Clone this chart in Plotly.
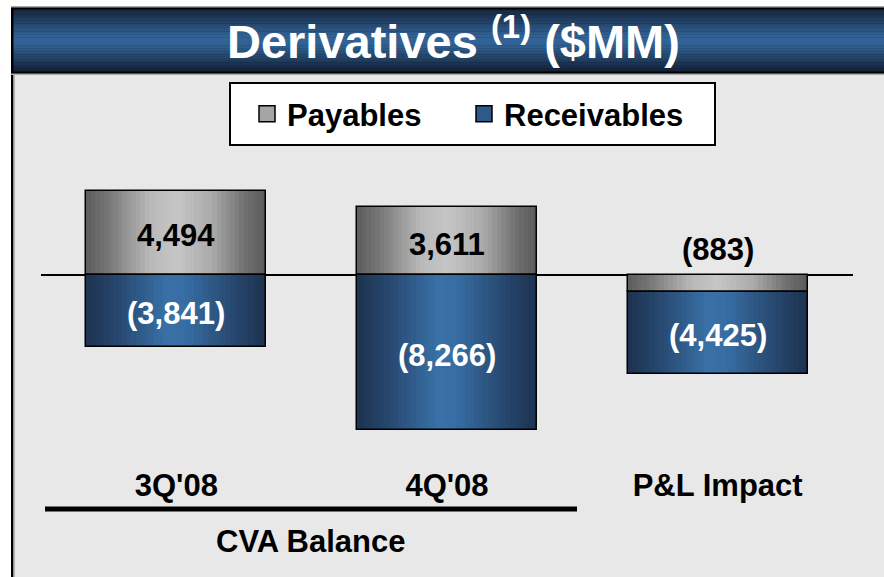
import plotly.graph_objects as go

# ---------------- data ----------------
categories = ["3Q'08", "4Q'08", "P&L Impact"]
payables = [4494, 3611, -883]
receivables = [-3841, -8266, -4425]
series_names = ["Payables", "Receivables"]
group_label = "CVA Balance"
title_text = "<b>Derivatives <sup>(1)</sup> ($MM)</b>"

# ---------------- geometry ----------------
W, H = 884, 577
L, R, T, B = 41, 31, 155, 122
PW, PH = W - L - R, H - T - B
FONT = "Liberation Sans, Arial, sans-serif"


def px_x(px):
    return (px - L) / PW


def px_y(py):
    return (H - B - py) / PH


def lerp(stops, t):
    for (p0, c0), (p1, c1) in zip(stops[:-1], stops[1:]):
        if p0 <= t <= p1:
            f = 0 if p1 == p0 else (t - p0) / (p1 - p0)
            c = [round(a + (b - a) * f) for a, b in zip(c0, c1)]
            return f"rgb({c[0]},{c[1]},{c[2]})"
    c = stops[-1][1]
    return f"rgb({c[0]},{c[1]},{c[2]})"


gray_stops = [(0, (92, 92, 92)), (0.12, (118, 118, 118)), (0.35, (184, 184, 184)),
              (0.5, (198, 198, 198)), (0.7, (170, 170, 170)), (0.88, (112, 112, 112)),
              (1, (90, 90, 90))]
blue_stops = [(0, (29, 51, 80)), (0.15, (37, 68, 106)), (0.45, (57, 113, 168)),
              (0.55, (55, 109, 163)), (0.8, (40, 74, 114)), (1, (28, 49, 78))]
title_stops = [(0, (22, 38, 59)), (0.12, (30, 56, 88)), (0.45, (52, 101, 152)),
               (0.6, (48, 94, 143)), (0.85, (30, 56, 88)), (1, (18, 32, 52))]

bar_w = 0.665
N = 40

recv_base = [p if (r < 0 and p < 0) else 0 for p, r in zip(payables, receivables)]
pay_base = [0 for _ in payables]

fig = go.Figure()

series = [
    (series_names[0], payables, pay_base, gray_stops, "rgb(165,165,165)", "legend"),
    (series_names[1], receivables, recv_base, blue_stops, "rgb(46,90,138)", "legend2"),
]

for name, vals, base, stops, mid, leg in series:
    # gradient strips
    for i in range(N):
        t = (i + 0.5) / N
        fig.add_trace(go.Bar(x=categories, y=vals, base=base,
                             width=bar_w / N * (1.08 if i < N - 1 else 1.0),
                             offset=-bar_w / 2 + i * bar_w / N,
                             marker=dict(color=lerp(stops, t), line=dict(width=0)),
                             showlegend=False, hoverinfo="skip"))
    # outline on top
    fig.add_trace(go.Bar(x=categories, y=vals, base=base, width=bar_w,
                         marker=dict(color="rgba(0,0,0,0)", line=dict(color="black", width=1.5)),
                         showlegend=False, name=name))
    # legend entry
    fig.add_trace(go.Scatter(x=[None], y=[None], mode="markers", name=name, legend=leg,
                             marker=dict(symbol="square", size=16, color=mid,
                                         line=dict(color="black", width=1.5)),
                             showlegend=True, hoverinfo="skip"))


def fmt(v):
    return f"({abs(v):,})" if v < 0 else f"{v:,}"


annotations = []
for cat, p, r, rb in zip(categories, payables, receivables, recv_base):
    if abs(p) < 1500:
        annotations.append(dict(x=cat, y=0, xref="x", yref="y", text=f"<b>{fmt(p)}</b>",
                                showarrow=False, yanchor="bottom", yshift=6,
                                font=dict(size=31, color="black", family=FONT)))
    else:
        annotations.append(dict(x=cat, y=p / 2, xref="x", yref="y", text=f"<b>{fmt(p)}</b>",
                                showarrow=False, yshift=-3,
                                font=dict(size=31, color="black", family=FONT)))
    annotations.append(dict(x=cat, y=rb + r / 2, xref="x", yref="y", text=f"<b>{fmt(r)}</b>",
                            showarrow=False, yshift=-3,
                            font=dict(size=31, color="white", family=FONT)))

annotations.append(dict(x=px_x(454), y=px_y(38), xref="paper", yref="paper", text=title_text,
                        showarrow=False, xanchor="center", yanchor="middle",
                        font=dict(size=47, color="white", family=FONT)))
annotations.append(dict(x=px_x(311), y=px_y(541), xref="paper", yref="paper",
                        text=f"<b>{group_label}</b>", showarrow=False,
                        xanchor="center", yanchor="middle",
                        font=dict(size=31, color="black", family=FONT)))

shapes = []
# panel
shapes.append(dict(type="rect", xref="paper", yref="paper", layer="below",
                   x0=px_x(12), x1=px_x(900), y0=px_y(73), y1=px_y(600),
                   fillcolor="#E8E8E8", line=dict(width=0)))
shapes.append(dict(type="rect", xref="paper", yref="paper", layer="below",
                   x0=px_x(11), x1=px_x(13.5), y0=px_y(73), y1=px_y(600),
                   fillcolor="black", line=dict(width=0)))
shapes.append(dict(type="rect", xref="paper", yref="paper", layer="below",
                   x0=px_x(13.5), x1=px_x(15), y0=px_y(73), y1=px_y(600),
                   fillcolor="#B4B4B4", line=dict(width=0)))
# title bar frame
shapes.append(dict(type="rect", xref="paper", yref="paper", layer="below",
                   x0=px_x(11), x1=px_x(900), y0=px_y(6), y1=px_y(75),
                   fillcolor="#A8A8A8", line=dict(width=0)))
shapes.append(dict(type="rect", xref="paper", yref="paper", layer="below",
                   x0=px_x(11), x1=px_x(900), y0=px_y(7.5), y1=px_y(73.5),
                   fillcolor="black", line=dict(width=0)))
NB = 40
y_top, y_bot = 9.5, 71.5
for i in range(NB):
    a = y_top + (y_bot - y_top) * i / NB
    b = y_top + (y_bot - y_top) * (i + 1) / NB + 0.4
    shapes.append(dict(type="rect", xref="paper", yref="paper", layer="below",
                       x0=px_x(13.5), x1=px_x(900), y0=px_y(a), y1=px_y(min(b, y_bot)),
                       fillcolor=lerp(title_stops, (i + 0.5) / NB), line=dict(width=0)))
# legend box
shapes.append(dict(type="rect", xref="paper", yref="paper", layer="below",
                   x0=px_x(230), x1=px_x(715), y0=px_y(83), y1=px_y(145),
                   fillcolor="white", line=dict(color="black", width=2)))
# group bracket line
shapes.append(dict(type="line", xref="paper", yref="paper",
                   x0=px_x(45), x1=px_x(577), y0=px_y(509), y1=px_y(509),
                   line=dict(color="black", width=5)))

legend_common = dict(orientation="h", xanchor="left", yanchor="middle",
                     bgcolor="rgba(0,0,0,0)", borderwidth=0,
                     font=dict(size=31, family=FONT, color="black", weight="bold"),
                     itemsizing="trace")

fig.update_layout(
    width=W, height=H, autosize=False,
    margin=dict(l=L, r=R, t=T, b=B, pad=0),
    paper_bgcolor="white", plot_bgcolor="rgba(0,0,0,0)",
    barmode="overlay", bargap=0,
    font=dict(family=FONT, color="black"),
    showlegend=True,
    legend=dict(x=px_x(247), y=px_y(114), **legend_common),
    legend2=dict(x=px_x(464), y=px_y(114), **legend_common),
    xaxis=dict(range=[-0.5, 2.5], showgrid=False, zeroline=False, showline=False,
               ticks="outside", ticklen=3, tickcolor="rgba(0,0,0,0)",
               tickfont=dict(size=31, family=FONT, color="black", weight="bold"),
               fixedrange=True),
    yaxis=dict(range=[-9612, 6408], showgrid=False, showticklabels=False, showline=False,
               zeroline=True, zerolinecolor="black", zerolinewidth=2, ticks="",
               fixedrange=True),
    shapes=shapes,
    annotations=annotations,
)

fig.write_html("out.html", config={"displayModeBar": False},
               post_script="document.body.style.margin='0';document.body.style.overflow='hidden';")
